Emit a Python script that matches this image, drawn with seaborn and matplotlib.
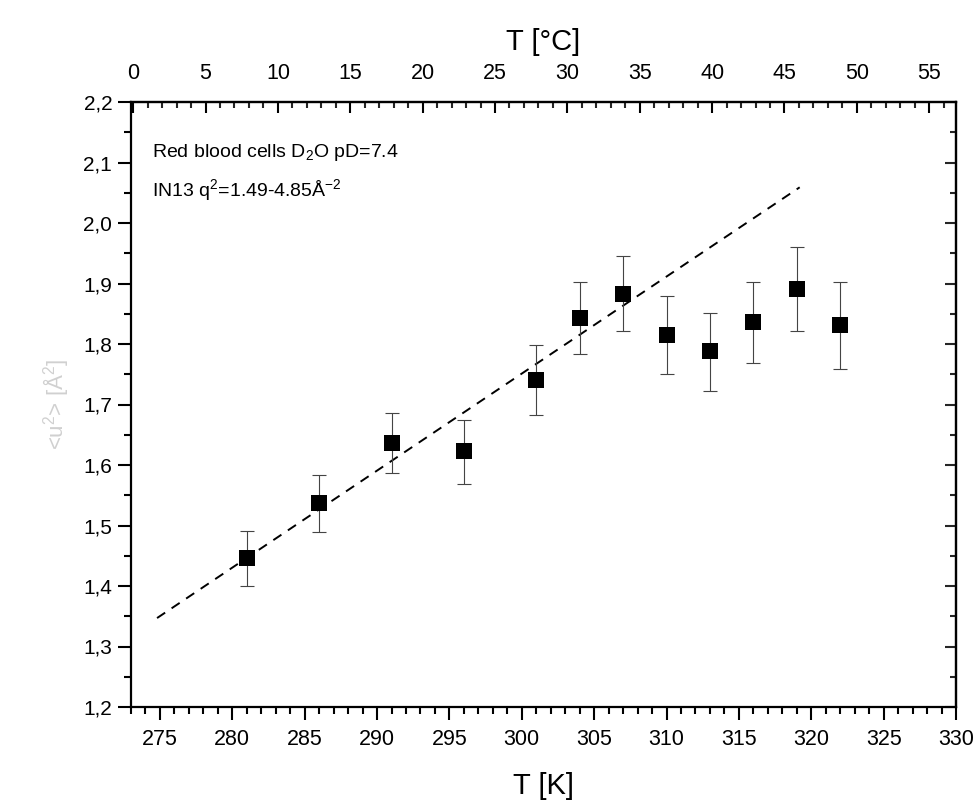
import matplotlib
matplotlib.use("Agg")
import matplotlib.pyplot as plt
import matplotlib.ticker as mticker
import seaborn as sns
import pandas as pd

# Data
temp_K = [281, 286, 291, 296, 301, 304, 307, 310, 313, 316, 319, 322]
msd = [1.446, 1.537, 1.636, 1.623, 1.741, 1.843, 1.883, 1.815, 1.788, 1.836, 1.891, 1.831]
err_up = [0.045, 0.047, 0.050, 0.051, 0.057, 0.060, 0.062, 0.065, 0.064, 0.066, 0.069, 0.072]
err_dn = [0.046, 0.048, 0.050, 0.054, 0.058, 0.060, 0.062, 0.065, 0.066, 0.068, 0.070, 0.073]
fit_K = [274.8, 319.2]
fit_y = [1.347, 2.059]
top_major = [0, 5, 10, 15, 20, 25, 30, 35, 40, 45, 50, 55]
top_minor = list(range(0, 57))
x_label = "T [K]"
top_label = "T [°C]"
y_label = "<u$^2$> [Å$^2$]"
note1 = "Red blood cells D$_2$O pD=7.4"
note2 = "IN13 q$^2$=1.49-4.85Å$^{-2}$"

sns.set_theme(style="white")
plt.rcParams['font.family'] = ['Liberation Sans', 'DejaVu Sans']
plt.rcParams['mathtext.fontset'] = 'custom'
plt.rcParams['mathtext.rm'] = 'Liberation Sans'
plt.rcParams['text.color'] = 'black'
plt.rcParams['axes.labelcolor'] = 'black'

fig = plt.figure(figsize=(9.76, 8.02), dpi=100)
ax = fig.add_axes([131/976, 1-707/802, (956-131)/976, (707-102)/802])

df = pd.DataFrame({"T": temp_K, "u2": msd})
ax.errorbar(temp_K, msd, yerr=[err_dn, err_up], fmt='none', ecolor='#444444',
            elinewidth=0.8, capsize=5, capthick=0.8, zorder=2)
sns.scatterplot(data=df, x="T", y="u2", marker='s', s=125, color='black',
                edgecolor='black', linewidth=0, ax=ax, zorder=3)
sns.lineplot(x=fit_K, y=fit_y, ax=ax, color='black', linestyle=(0, (5, 4)),
             linewidth=1.4, zorder=1)

ax.set_xlim(273, 330)
ax.set_ylim(1.2, 2.2)
ax.xaxis.set_major_locator(mticker.MultipleLocator(5))
ax.xaxis.set_minor_locator(mticker.MultipleLocator(1))
ax.yaxis.set_major_locator(mticker.MultipleLocator(0.1))
ax.yaxis.set_minor_locator(mticker.MultipleLocator(0.05))
ax.xaxis.set_major_formatter(mticker.FuncFormatter(lambda v, p: f"{v:.0f}"))
ax.yaxis.set_major_formatter(mticker.FuncFormatter(lambda v, p: f"{v:.1f}".replace('.', ',')))

for s in ax.spines.values():
    s.set_linewidth(1.6)
    s.set_color('black')
    s.set_visible(True)

ax.tick_params(axis='both', which='both', colors='black', width=1.5)
ax.tick_params(axis='x', which='major', direction='out', length=9.5, bottom=True,
               pad=6, labelsize=15.5)
ax.tick_params(axis='x', which='minor', direction='out', length=5, bottom=True)
ax.tick_params(axis='y', which='major', direction='out', length=9.5, left=True,
               right=False, pad=4, labelsize=15)
ax.tick_params(axis='y', which='minor', direction='out', length=5, left=True, right=False)

ax.set_xlabel(x_label, fontsize=21, labelpad=16, color='black')
ax.set_ylabel(y_label, fontsize=16, labelpad=9, color='#d0d0d0')

secax = ax.secondary_xaxis('top', functions=(lambda k: k - 273.15, lambda c: c + 273.15))
secax.xaxis.set_major_locator(mticker.FixedLocator(top_major))
secax.xaxis.set_minor_locator(mticker.FixedLocator(top_minor))
secax.xaxis.set_major_formatter(mticker.FixedFormatter([str(v) for v in top_major]))
secax.tick_params(axis='x', which='major', direction='in', length=8, width=1.5,
                  labelsize=15.5, pad=13, colors='black')
secax.tick_params(axis='x', which='minor', direction='in', length=4.5, width=1.5)
secax.set_xlabel(top_label, fontsize=21, labelpad=9, color='black')
secax.spines['top'].set_linewidth(1.6)

secy = ax.secondary_yaxis('right')
secy.yaxis.set_major_locator(mticker.MultipleLocator(0.1))
secy.yaxis.set_minor_locator(mticker.MultipleLocator(0.05))
secy.tick_params(axis='y', which='major', direction='in', length=8, width=1.5, labelright=False)
secy.tick_params(axis='y', which='minor', direction='in', length=4.5, width=1.5)
secy.spines['right'].set_linewidth(1.6)

ax.text(0.026, 0.917, note1, transform=ax.transAxes, fontsize=14, va='center',
        ha='left', color='black')
ax.text(0.026, 0.853, note2, transform=ax.transAxes, fontsize=14, va='center',
        ha='left', color='black')

fig.savefig("out.png", dpi=100)
